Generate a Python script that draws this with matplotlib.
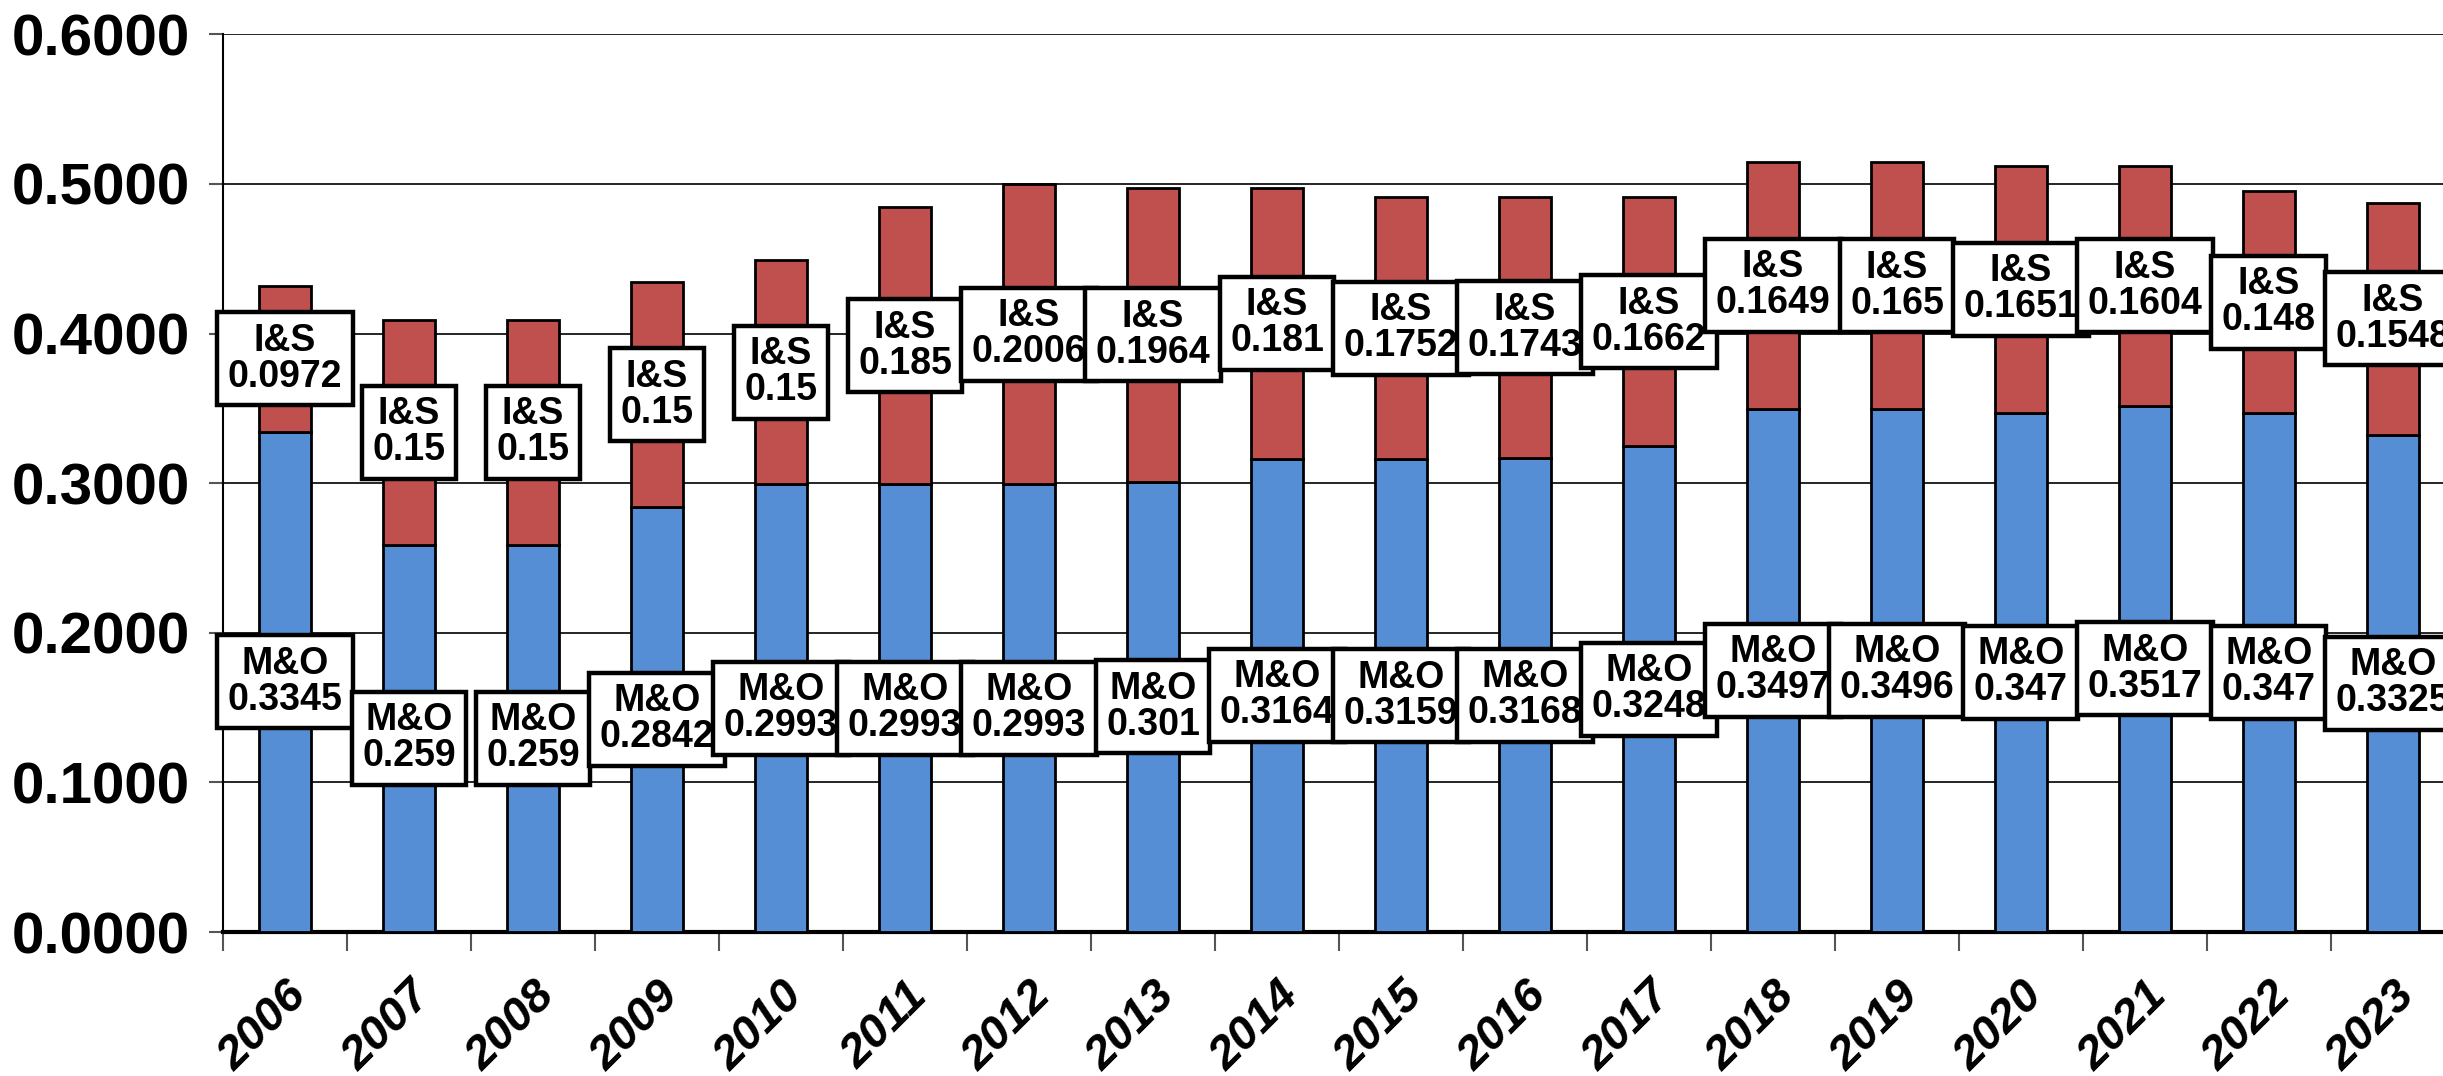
import numpy as np
import matplotlib.pyplot as plt
from matplotlib.ticker import FixedLocator, FormatStrFormatter

years = ['2006', '2007', '2008', '2009', '2010', '2011', '2012', '2013', '2014',
         '2015', '2016', '2017', '2018', '2019', '2020', '2021', '2022', '2023']
mo_rate = [0.3345, 0.259, 0.259, 0.2842, 0.2993, 0.2993, 0.2993, 0.301, 0.3164,
           0.3159, 0.3168, 0.3248, 0.3497, 0.3496, 0.347, 0.3517, 0.347, 0.3325]
is_rate = [0.0972, 0.15, 0.15, 0.15, 0.15, 0.185, 0.2006, 0.1964, 0.181,
           0.1752, 0.1743, 0.1662, 0.1649, 0.165, 0.1651, 0.1604, 0.148, 0.1548]

BLUE = '#558ED5'
RED = '#C0504D'
FONT = ['Liberation Sans', 'DejaVu Sans']

fig = plt.figure(figsize=(24.43, 10.76), dpi=100)
ax = fig.add_axes([0.0913, 0.1338, 0.9136, 0.8343])

x = np.arange(len(years))
mo = np.array(mo_rate)
ins = np.array(is_rate)
ax.bar(x, mo, width=0.42, color=BLUE, edgecolor='black', linewidth=2, zorder=3)
ax.bar(x, ins, width=0.42, bottom=mo, color=RED, edgecolor='black', linewidth=2, zorder=3)

# value boxes sit in the middle of each segment
box = dict(boxstyle='square,pad=0.28', facecolor='white', edgecolor='black', linewidth=3.2)
for i in range(len(years)):
    ax.text(x[i], mo[i] / 2, f'M&O\n{mo_rate[i]:g}', ha='center', va='center',
            fontsize=27, fontweight='bold', family=FONT, linespacing=1.0,
            bbox=box, zorder=5)
    ax.text(x[i], mo[i] + ins[i] / 2, f'I&S\n{is_rate[i]:g}', ha='center', va='center',
            fontsize=27, fontweight='bold', family=FONT, linespacing=1.0,
            bbox=box, zorder=5)

ax.set_xlim(-0.5, len(years) - 0.5)
ax.set_ylim(0, 0.6)
ax.set_yticks(np.arange(0, 0.61, 0.1))
ax.yaxis.set_major_formatter(FormatStrFormatter('%.4f'))
ax.grid(axis='y', color='black', linewidth=1.2, zorder=0)

ax.set_xticks(x)
ax.set_xticklabels(years, rotation=45, ha='right', rotation_mode='anchor',
                   fontsize=34, fontweight='bold', fontstyle='italic', family=FONT)
ax.xaxis.set_minor_locator(FixedLocator(np.arange(-0.5, len(years), 1.0)))
ax.tick_params(axis='x', which='major', length=0, pad=30)
ax.tick_params(axis='x', which='minor', length=14, width=1.5, color='#555555', direction='out')
ax.tick_params(axis='y', length=10, width=1.5, color='#555555', pad=14)
for lab in ax.get_yticklabels():
    lab.set_fontsize(42)
    lab.set_fontweight('bold')
    lab.set_family(FONT)

ax.spines['top'].set_visible(False)
ax.spines['right'].set_visible(False)
ax.spines['bottom'].set_linewidth(3)
ax.spines['left'].set_linewidth(1.5)

fig.savefig('out.png', dpi=100)
